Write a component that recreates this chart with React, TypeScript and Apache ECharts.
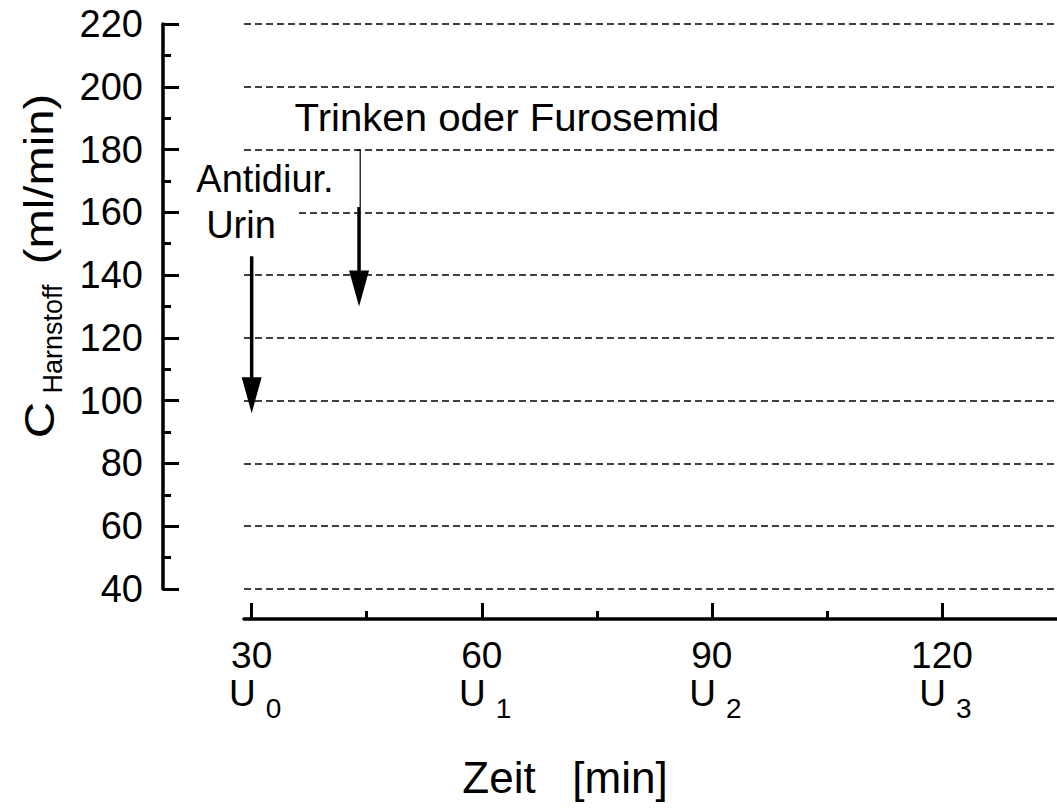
import React, { useEffect, useRef } from "react";
import * as echarts from "echarts";

// ---- data ----
const xMajorTicks = [30, 60, 90, 120];
const xMinorTicks = [45, 75, 105];
const urinLabels = ["0", "1", "2", "3"];
const yMin = 40;
const yMax = 220;
const yStep = 20;
const xMin = 29;
const xMax = 135;
// arrows: x position, start value, end value
const arrowX = [30, 44];
const arrowFrom = [146, 180];
const arrowTo = [96, 130];

const FONT = "'Liberation Sans', Arial, Helvetica, sans-serif";

export default function App() {
  const ref = useRef<HTMLDivElement>(null);

  useEffect(() => {
    if (!ref.current) return;
    const chart = echarts.init(ref.current, null, { renderer: "svg" });

    const arrowData = arrowX.map((x, i) => [x, arrowFrom[i], arrowTo[i]]);

    const option: any = {
      animation: false,
      backgroundColor: "#ffffff",
      grid: { left: 244, right: 0, top: 24, bottom: 221, containLabel: false },
      xAxis: [
        {
          type: "value",
          min: xMin,
          max: xMax,
          position: "bottom",
          offset: 30,
          axisLine: { show: true, onZero: false, lineStyle: { color: "#000", width: 3.5 } },
          axisTick: {
            show: true,
            inside: true,
            length: 16,
            customValues: xMajorTicks,
            lineStyle: { color: "#000", width: 3 },
          },
          axisLabel: {
            show: true,
            customValues: xMajorTicks,
            margin: 17,
            color: "#000",
            fontFamily: FONT,
            formatter: (v: number) => {
              const i = xMajorTicks.indexOf(v);
              return `{n|${v}}\n{u|U}{s|${urinLabels[i] ?? ""}}`;
            },
            rich: {
              n: { fontSize: 37, lineHeight: 38, fontFamily: FONT, color: "#000" },
              u: { fontSize: 37, lineHeight: 38, fontFamily: FONT, color: "#000", padding: [0, 0, 0, 7] },
              s: { fontSize: 28, lineHeight: 38, fontFamily: FONT, color: "#000", padding: [30, 0, 0, 10] },
            },
          },
          splitLine: { show: false },
        },
        {
          type: "value",
          min: xMin,
          max: xMax,
          position: "bottom",
          offset: 30,
          axisLine: { show: false, onZero: false },
          axisTick: {
            show: true,
            inside: true,
            length: 8,
            customValues: xMinorTicks,
            lineStyle: { color: "#000", width: 3 },
          },
          axisLabel: { show: false },
          splitLine: { show: false },
        },
      ],
      yAxis: {
        type: "value",
        min: yMin,
        max: yMax,
        interval: yStep,
        offset: 81,
        axisLine: { show: true, onZero: false, lineStyle: { color: "#000", width: 3.5 } },
        axisTick: { show: true, inside: true, length: 16, lineStyle: { color: "#000", width: 3 } },
        minorTick: { show: true, splitNumber: 2, length: 8, lineStyle: { color: "#000", width: 3 } },
        axisLabel: { color: "#000", fontSize: 38, fontFamily: FONT, margin: 20 },
        splitLine: { show: true, lineStyle: { color: "#000", width: 1.5, type: [7, 4] } },
        minorSplitLine: { show: false },
      },
      series: [
        {
          type: "custom",
          coordinateSystem: "cartesian2d",
          data: arrowData,
          encode: { x: 0, y: [1, 2] },
          renderItem: (params: any, api: any) => {
            const x = api.value(0);
            const p1 = api.coord([x, api.value(1)]);
            const p2 = api.coord([x, api.value(2)]);
            const headLen = 36;
            const headW = 10;
            return {
              type: "group",
              children: [
                {
                  type: "line",
                  shape: { x1: p1[0], y1: p1[1], x2: p2[0], y2: p2[1] - headLen + 4 },
                  style: { stroke: "#000", lineWidth: 3.5 },
                },
                {
                  type: "polygon",
                  shape: {
                    points: [
                      [p2[0] - headW, p2[1] - headLen],
                      [p2[0] + headW, p2[1] - headLen],
                      [p2[0], p2[1]],
                    ],
                  },
                  style: { fill: "#000" },
                },
              ],
            };
          },
          z: 5,
        },
      ],
      graphic: [
        {
          type: "rect",
          z: 100,
          shape: { x: 243, y: 151, width: 116.6, height: 56 },
          style: { fill: "#fff" },
        },
        {
          type: "rect",
          z: 100,
          shape: { x: 243, y: 207, width: 54, height: 43 },
          style: { fill: "#fff" },
        },
        {
          type: "text",
          z: 101,
          x: 507,
          y: 117,
          scaleX: 1.03,
          style: { text: "Trinken oder Furosemid", font: `39px ${FONT}`, fill: "#000", align: "center", verticalAlign: "middle" },
        },
        {
          type: "text",
          z: 101,
          x: 265,
          y: 179,
          style: { text: "Antidiur.", font: `38px ${FONT}`, fill: "#000", align: "center", verticalAlign: "middle" },
        },
        {
          type: "text",
          z: 101,
          x: 241,
          y: 225,
          style: { text: "Urin", font: `38px ${FONT}`, fill: "#000", align: "center", verticalAlign: "middle" },
        },
        {
          type: "text",
          z: 101,
          x: 565,
          y: 777,
          style: { text: "Zeit   [min]", font: `44px ${FONT}`, fill: "#000", align: "center", verticalAlign: "middle" },
        },
        {
          type: "text",
          z: 101,
          x: 40,
          y: 420,
          rotation: Math.PI / 2,
          scaleX: 1.2,
          style: { text: "C", font: `42px ${FONT}`, fill: "#000", align: "center", verticalAlign: "middle" },
        },
        {
          type: "text",
          z: 101,
          x: 53,
          y: 339,
          rotation: Math.PI / 2,
          style: { text: "Harnstoff", font: `27px ${FONT}`, fill: "#000", align: "center", verticalAlign: "middle" },
        },
        {
          type: "text",
          z: 101,
          x: 39,
          y: 179,
          rotation: Math.PI / 2,
          scaleX: 1.18,
          style: { text: "(ml/min)", font: `40px ${FONT}`, fill: "#000", align: "center", verticalAlign: "middle" },
        },
      ],
    };

    chart.setOption(option);
    return () => chart.dispose();
  }, []);

  return (
    <div
      ref={ref}
      style={{ position: "fixed", left: 0, top: 0, width: 1057, height: 810, background: "#fff" }}
    />
  );
}
